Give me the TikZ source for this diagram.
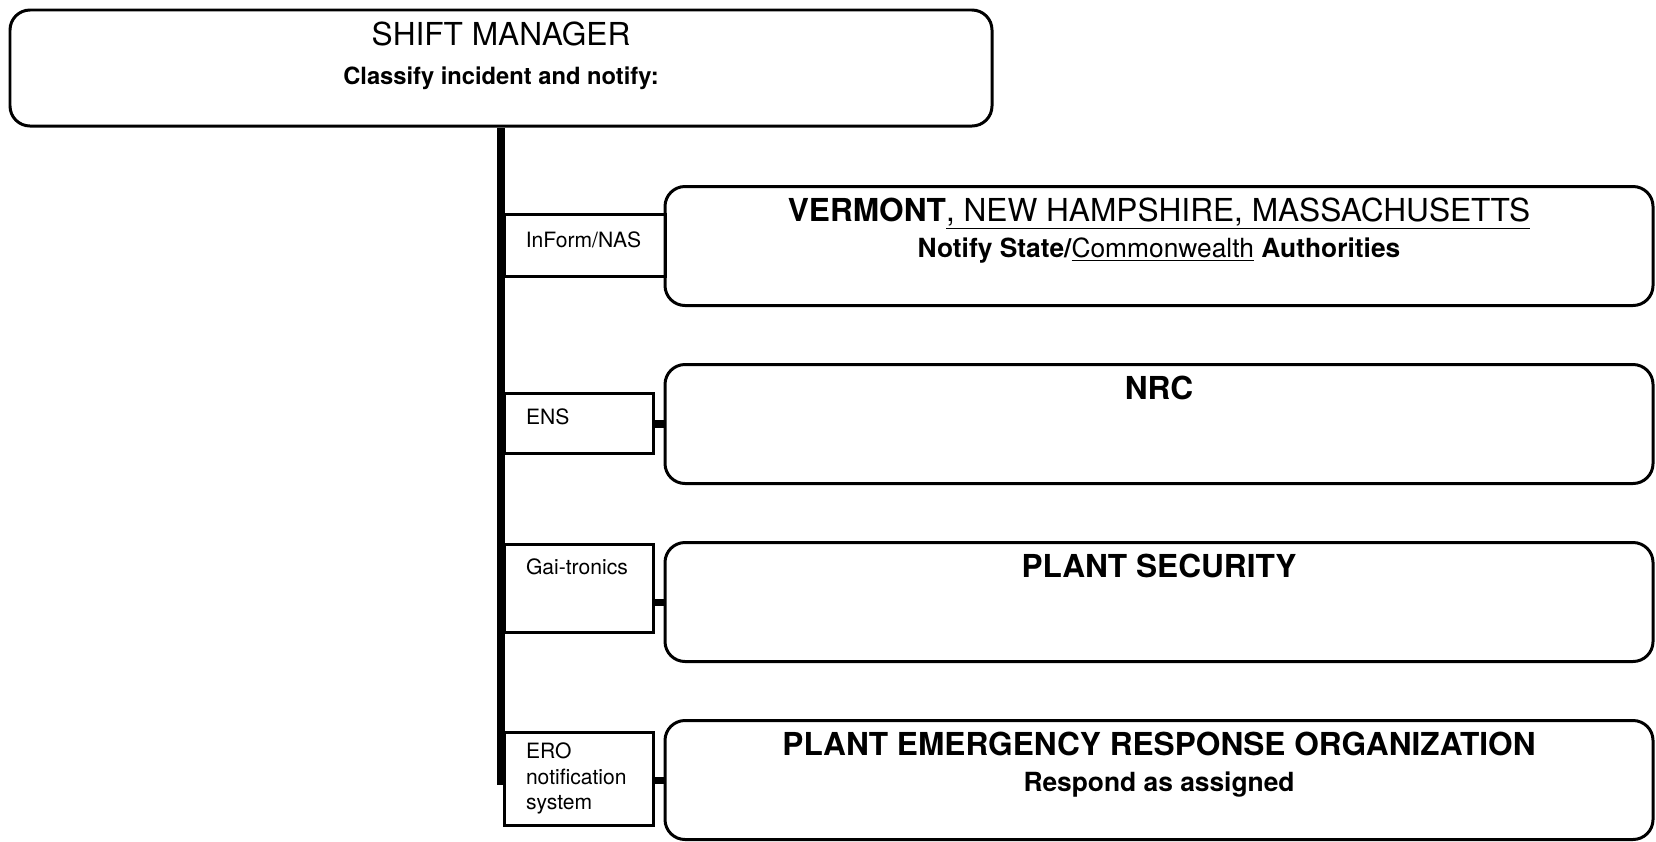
\documentclass[tikz,border=0pt]{standalone}
\usepackage{fontspec}
\setmainfont{TeX Gyre Heros}
\usepackage{tikz}
\usetikzlibrary{positioning, calc}

\begin{document}
\begin{tikzpicture}[
    mgrbox/.style={rectangle, draw, line width=1.7pt, rounded corners=0.4cm, minimum width=19.64cm, minimum height=2.32cm},
    orgbox/.style={rectangle, draw, line width=1.7pt, rounded corners=0.4cm, minimum width=19.76cm, minimum height=2.38cm},
    chanbox/.style={rectangle, draw, line width=1.7pt, minimum width=2.98cm, text width=2.1cm, align=left, font=\fontsize{12}{14.4}\selectfont},
    title/.style={inner sep=0pt, anchor=base, font=\fontsize{18}{21}\selectfont\bfseries},
    subtitle/.style={inner sep=0pt, anchor=base, font=\fontsize{15}{18}\selectfont\bfseries},
    trunk/.style={line width=4pt},
    stub/.style={line width=4pt}
]
\useasboundingbox (0,0) rectangle (33.12,-16.82);

\node[mgrbox] (shift) at (10.02,-1.36) {};
\node[title, font=\fontsize{18}{21}\selectfont] (shiftt) at ($(shift.north)+(0,-0.73)$) {SHIFT MANAGER};
\node[subtitle, font=\fontsize{13.5}{16}\selectfont\bfseries] (shifts) at ($(shift.north)+(0,-1.51)$) {Classify incident and notify:};

\node[orgbox] (states) at (23.18,-4.92) {};
\node[title] (statest) at ($(states.north)+(0,-0.73)$) {VERMONT{\mdseries\underline{, NEW HAMPSHIRE, MASSACHUSETTS}}};
\node[subtitle] (statess) at ($(states.north)+(0,-1.45)$) {Notify State/{\mdseries\underline{Commonwealth}} Authorities};

\node[orgbox] (nrc) at (23.18,-8.48) {};
\node[title] (nrct) at ($(nrc.north)+(0,-0.73)$) {NRC};

\node[orgbox] (security) at (23.18,-12.04) {};
\node[title] (securityt) at ($(security.north)+(0,-0.73)$) {PLANT SECURITY};

\node[orgbox] (pero) at (23.18,-15.60) {};
\node[title] (perot) at ($(pero.north)+(0,-0.73)$) {PLANT EMERGENCY RESPONSE ORGANIZATION};
\node[subtitle] (peros) at ($(pero.north)+(0,-1.45)$) {Respond as assigned};

\node[chanbox, minimum width=3.22cm, text width=2.35cm, minimum height=1.24cm, text height=0.3cm, text depth=0.22cm] (inform) at (11.69,-4.90) {InForm/NAS};
\node[chanbox, minimum height=1.2cm, text height=0.3cm, text depth=0.26cm] (ens) at (11.57,-8.46) {ENS};
\node[chanbox, minimum height=1.76cm, text height=0.3cm, text depth=0.84cm] (gai) at (11.57,-11.76) {Gai-tronics};
\node[chanbox, minimum height=1.86cm] (ero) at (11.57,-15.57) {ERO\\notification\\system};

\coordinate (trunkend) at (10.02,-15.70);
\draw[trunk] (shift.south) -- (trunkend);
\draw[stub] (ens.east |- nrc.west) -- (nrc.west);
\draw[stub] (gai.east |- security.west) -- (security.west);
\draw[stub] (ero.east |- pero.west) -- (pero.west);
\end{tikzpicture}
\end{document}
